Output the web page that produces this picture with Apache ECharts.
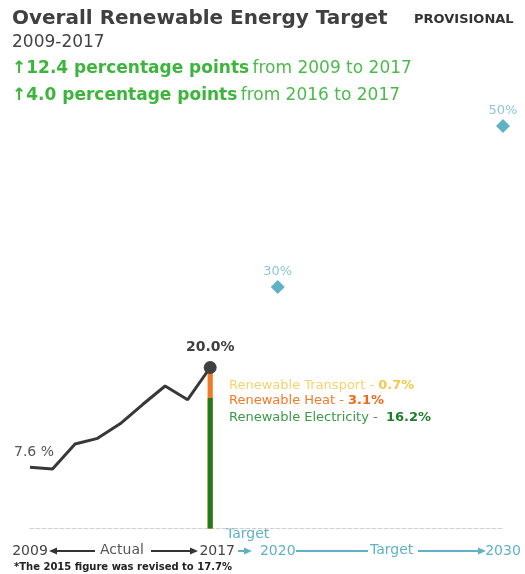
<!DOCTYPE html>
<html>
<head>
<meta charset="utf-8">
<script src="https://cdn.jsdelivr.net/npm/echarts@6/dist/echarts.min.js"></script>
<style>
  html, body { margin: 0; padding: 0; background: #fff; }
  #main { width: 525px; height: 574px; }
</style>
</head>
<body>
<div id="main"></div>
<script>
// actual overall renewable share, 2009-2017
var years = [2009, 2010, 2011, 2012, 2013, 2014, 2015, 2016, 2017];
var overall = [7.6, 7.4, 10.5, 11.2, 13.0, 15.4, 17.7, 16.0, 20.0];

// targets
var targetYears = [2020, 2030];
var targets = [30, 50];

// 2017 breakdown (bottom to top)
var parts = ['Renewable Electricity', 'Renewable Heat', 'Renewable Transport'];
var partValues = [16.2, 3.1, 0.7];
var partColors = ['#1f7d1f', '#f07a28', '#f6d45f'];

var axisYears = [2009, 2017, 2020, 2030];

var teal = '#5fb2c4';
var dark = '#404040';
var green = '#3db53d';

var chart = echarts.init(document.getElementById('main'));

var lineData = years.map(function (y, i) {
    var d = { value: [y, overall[i]] };
    if (i === 0) {
        d.label = { show: true, position: 'top', offset: [4, -3], formatter: '7.6 %',
            color: '#555', fontSize: 14, fontFamily: 'DejaVu Sans' };
    }
    if (i === years.length - 1) {
        d.label = { show: true, position: 'top', offset: [0, -2], formatter: '20.0%',
            color: dark, fontSize: 14, fontWeight: 'bold', fontFamily: 'DejaVu Sans' };
    }
    return d;
});

// stacked column for 2017: draw cumulative totals, tallest behind
var cumul = [];
partValues.reduce(function (s, v, i) { cumul[i] = Math.round((s + v) * 10) / 10; return s + v; }, 0);
var barSeries = parts.map(function (name, i) {
    return { name: name, idx: i };
}).reverse().map(function (p) {
    return {
        name: p.name,
        type: 'bar',
        barWidth: 5,
        barGap: '-100%',
        z: 1,
        itemStyle: { color: partColors[p.idx] },
        data: [[2017, cumul[p.idx]]]
    };
});

// labels for the 2017 breakdown, top to bottom
var partLines = [
    { c: '#f4d370', b: '#f2c94c', t: 'Renewable Transport - ', v: partValues[2] + '%' },
    { c: '#f07a28', b: '#ec6a1a', t: 'Renewable Heat - ', v: partValues[1] + '%' },
    { c: '#3a9a46', b: '#1f7d2a', t: 'Renewable Electricity -  ', v: partValues[0] + '%' }
];
var partY = [387, 402, 419];
var partGraphics = partLines.map(function (p, i) {
    return {
        type: 'text', left: 229, top: partY[i] - 8,
        style: {
            text: '{a|' + p.t + '}{b|' + p.v + '}',
            rich: {
                a: { fill: p.c, font: '13px "DejaVu Sans"' },
                b: { fill: p.b, font: 'bold 13px "DejaVu Sans"' }
            }
        }
    };
});

function arrowLine(x1, x2, y, color, headLeft, headRight) {
    var g = [{
        type: 'line', shape: { x1: x1, y1: y, x2: x2, y2: y },
        style: { stroke: color, lineWidth: 2 }
    }];
    if (headRight) {
        g.push({ type: 'polygon', shape: { points: [[x2 + 2, y], [x2 - 6, y - 3.5], [x2 - 6, y + 3.5]] }, style: { fill: color } });
    }
    if (headLeft) {
        g.push({ type: 'polygon', shape: { points: [[x1 - 2, y], [x1 + 6, y - 3.5], [x1 + 6, y + 3.5]] }, style: { fill: color } });
    }
    return g;
}

var graphics = [
    { type: 'text', left: 12, top: 9, style: { text: 'Overall Renewable Energy Target', fill: dark, font: 'bold 20px "DejaVu Sans"' } },
    { type: 'text', left: 414, top: 13, style: { text: 'PROVISIONAL', fill: '#333', font: 'bold 13px "DejaVu Sans"' } },
    { type: 'text', left: 12, top: 34, style: { text: '2009-2017', fill: '#444', font: '17px "DejaVu Sans"' } },
    { type: 'text', left: 12, top: 60, style: {
        text: '{a|\u2191}{a|12.4 percentage points} {b|from 2009 to 2017}',
        rich: { a: { fill: green, font: 'bold 17px "DejaVu Sans"' }, b: { fill: '#4cbb4c', font: '17px "DejaVu Sans"' } }
    } },
    { type: 'text', left: 12, top: 87, style: {
        text: '{a|\u2191}{a|4.0 percentage points} {b|from 2016 to 2017}',
        rich: { a: { fill: green, font: 'bold 17px "DejaVu Sans"' }, b: { fill: '#4cbb4c', font: '17px "DejaVu Sans"' } }
    } },
    { type: 'text', left: 226, top: 527, style: { text: 'Target', fill: teal, font: '14px "DejaVu Sans"' } },
    { type: 'text', left: 100, top: 543, style: { text: 'Actual', fill: '#555', font: '14px "DejaVu Sans"' } },
    { type: 'text', left: 370, top: 543, style: { text: 'Target', fill: teal, font: '14px "DejaVu Sans"' } },
    { type: 'text', left: 14, top: 562, style: { text: '*The 2015 figure was revised to 17.7%', fill: '#222', font: 'bold 10px "DejaVu Sans"' } }
].concat(partGraphics)
 .concat(arrowLine(51, 95, 551, '#333', true, false))
 .concat(arrowLine(151, 196, 551, '#333', false, true))
 .concat(arrowLine(238, 250, 551, teal, false, true))
 .concat(arrowLine(296, 368, 551, teal, false, false))
 .concat(arrowLine(418, 484, 551, teal, false, true));

var option = {
    backgroundColor: '#fff',
    animation: false,
    grid: { left: 30, right: 22, top: 126, bottom: 45.5 },
    xAxis: {
        type: 'value',
        min: 2009,
        max: 2030,
        splitLine: { show: false },
        axisTick: { show: false },
        axisLine: { show: true, lineStyle: { color: '#d0d0d0', type: 'dashed', width: 1 } },
        axisLabel: {
            customValues: axisYears,
            margin: 16,
            fontSize: 14,
            fontFamily: 'DejaVu Sans',
            formatter: function (v) {
                if (v === 2017) return '{s|' + v + '}';
                if (v >= 2020) return '{t|' + v + '}';
                return '{d|' + v + '}';
            },
            rich: {
                d: { color: '#444', fontSize: 14, fontFamily: 'DejaVu Sans' },
                s: { color: '#444', fontSize: 14, fontFamily: 'DejaVu Sans', padding: [0, 0, 0, 14] },
                t: { color: teal, fontSize: 14, fontFamily: 'DejaVu Sans' }
            }
        }
    },
    yAxis: {
        type: 'value',
        min: 0,
        max: 50,
        show: false
    },
    series: barSeries.concat([
        {
            name: 'Overall',
            type: 'line',
            z: 3,
            symbol: 'circle',
            symbolSize: function (v, p) { return p.dataIndex === years.length - 1 ? 13 : 0; },
            showAllSymbol: true,
            lineStyle: { color: '#383838', width: 3 },
            itemStyle: { color: dark },
            data: lineData
        },
        {
            name: 'Target',
            type: 'scatter',
            symbol: 'diamond',
            symbolSize: 14,
            itemStyle: { color: '#3a9db8' },
            label: {
                show: true, position: 'top', distance: 2,
                color: '#6fb8c8', fontSize: 13, fontFamily: 'DejaVu Sans',
                formatter: function (p) { return p.value[1] + '%'; }
            },
            data: targetYears.map(function (y, i) { return [y, targets[i]]; })
        }
    ]),
    graphic: graphics
};

chart.setOption(option);
</script>
</body>
</html>
